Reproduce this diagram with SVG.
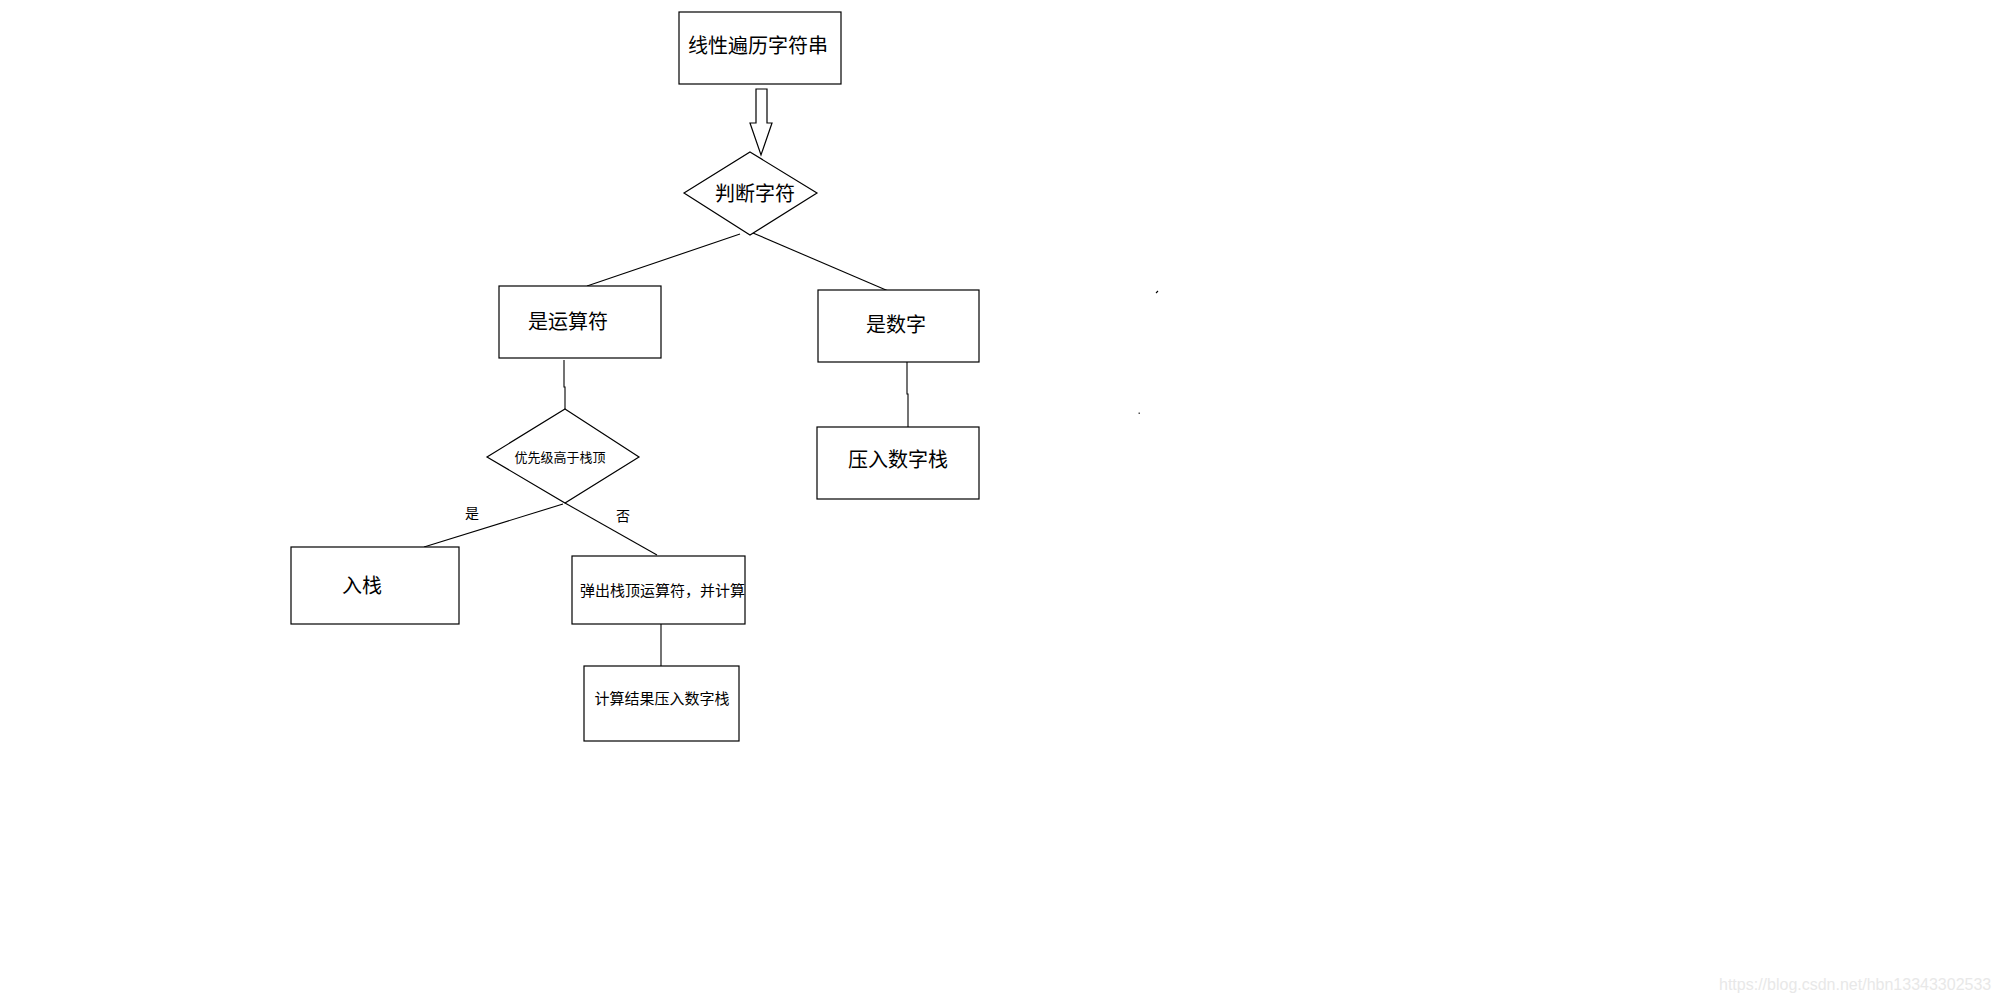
<svg xmlns="http://www.w3.org/2000/svg" width="1998" height="1003" viewBox="0 0 1998 1003">
<style>
.box{fill:#fff;stroke:#000;stroke-width:1.2}
.ln{fill:none;stroke:#000;stroke-width:1.1}
.t{font-family:"Noto Sans CJK SC","Microsoft YaHei",sans-serif;fill:#000;text-anchor:middle;dominant-baseline:central}
.t20{font-size:20px}
.t15{font-size:15px}
.t13{font-size:13px}
.t14{font-size:14px}
.wm{font-family:"Liberation Sans",Arial,sans-serif;font-size:16px;fill:#e8e8e8}
</style>
<rect width="1998" height="1003" fill="#fff"/>
<g id="connectors">
<polygon class="box" points="756,89 767,89 767,123 772,123 761,155 750,123 756,123"/>
<line class="ln" x1="740" y1="234" x2="587" y2="286"/>
<line class="ln" x1="753" y1="233" x2="893" y2="293"/>
<polyline class="ln" points="564,360 564,387 565,387 565,414"/>
<polyline class="ln" points="907,360 907,394 908,394 908,427"/>
<line class="ln" x1="563" y1="504" x2="424" y2="547"/>
<line class="ln" x1="565" y1="503" x2="657" y2="555"/>
<line class="ln" x1="661" y1="620" x2="661" y2="667"/>
<text class="t t14" x="472" y="512">是</text>
<text class="t t14" x="623" y="515">否</text>
</g>
<g id="n_start">
<rect class="box" x="679" y="12" width="162" height="72"/>
<text class="t t20" x="758" y="44">线性遍历字符串</text>
</g>
<g id="n_judge">
<polygon class="box" points="750,152 817,193 750,235 684,193"/>
<text class="t t20" x="755" y="192">判断字符</text>
</g>
<g id="n_op">
<rect class="box" x="499" y="286" width="162" height="72"/>
<text class="t t20" x="568" y="320">是运算符</text>
</g>
<g id="n_num">
<rect class="box" x="818" y="290" width="161" height="72"/>
<text class="t t20" x="896" y="323">是数字</text>
</g>
<g id="n_pushnum">
<rect class="box" x="817" y="427" width="162" height="72"/>
<text class="t t20" x="898" y="458">压入数字栈</text>
</g>
<g id="n_prio">
<polygon class="box" points="565,409 639,457 565,503 487,457"/>
<text class="t t13" x="560" y="456">优先级高于栈顶</text>
</g>
<g id="n_push">
<rect class="box" x="291" y="547" width="168" height="77"/>
<text class="t t20" x="362" y="584">入栈</text>
</g>
<g id="n_pop">
<rect class="box" x="572" y="556" width="173" height="68"/>
<text class="t t15" x="580" y="589" style="text-anchor:start">弹出栈顶运算符，并计算</text>
</g>
<g id="n_result">
<rect class="box" x="584" y="666" width="155" height="75"/>
<text class="t t15" x="662" y="697">计算结果压入数字栈</text>
</g>
<line class="ln" x1="1156" y1="293" x2="1158" y2="291"/>
<rect x="1138.5" y="412.5" width="1.5" height="1.5" fill="#555"/>
<text class="wm" x="1719" y="990">https://blog.csdn.net/hbn13343302533</text>
</svg>
